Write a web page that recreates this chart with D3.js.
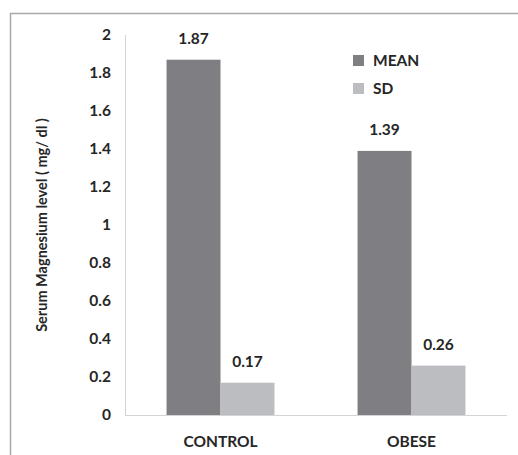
<!DOCTYPE html>
<html><head><meta charset="utf-8">
<script src="https://cdn.jsdelivr.net/npm/d3@7"></script>
<style>body{margin:0;background:#fff}svg{display:block}text{font-family:Lato,"Open Sans",sans-serif}</style>
</head><body><svg id="c" width="518" height="455"></svg>
<script>
const categories = ["CONTROL", "OBESE"];
const seriesNames = ["MEAN", "SD"];
const meanValues = [1.87, 1.39];
const sdValues = [0.17, 0.26];
const yTicks = [0, 0.2, 0.4, 0.6, 0.8, 1, 1.2, 1.4, 1.6, 1.8, 2];
const yTitle = "Serum Magnesium level ( mg/ dl )";

const colors = {MEAN: "#7f7f83", SD: "#bcbdc0"};
const svg = d3.select("#c");
const x0 = 125, x1 = 507, yTop = 35, yBot = 415;
const fs = 15.5;

// frame
svg.append("path").attr("d", `M10.5,455 V13.5 H518`).attr("fill", "none").attr("stroke", "#a9a9a9").attr("stroke-width", 1.5);

const x = d3.scaleBand().domain(categories).range([x0, x1]).paddingInner(0.435).paddingOuter(0.2175);
const xs = d3.scaleBand().domain(seriesNames).range([0, x.bandwidth()]);
const y = d3.scaleLinear().domain([0, 2]).range([yBot, yTop]);

// axes lines
svg.append("line").attr("x1", x0 + 0.5).attr("x2", x0 + 0.5).attr("y1", yTop).attr("y2", yBot).attr("stroke", "#d4d4d4");
svg.append("line").attr("x1", x0).attr("x2", x1).attr("y1", yBot + 0.5).attr("y2", yBot + 0.5).attr("stroke", "#d4d4d4");

// y tick labels
const yAxis = d3.axisLeft(y).tickValues(yTicks).tickSize(0).tickPadding(14).tickFormat(d => String(d));
const ga = svg.append("g").attr("transform", `translate(${x0},0)`).call(yAxis);
ga.select(".domain").remove();
ga.selectAll("text").attr("font-size", fs).attr("fill", "#262626").attr("font-family", "Lato, sans-serif").attr("font-weight", "bold");

// x labels
const gx = svg.append("g").attr("transform", `translate(0,${yBot})`).call(d3.axisBottom(x).tickSize(0).tickPadding(21));
gx.select(".domain").remove();
gx.selectAll("text").attr("font-size", fs).attr("fill", "#262626").attr("font-family", "Lato, sans-serif").attr("font-weight", "bold");

// data rows
const rows = categories.map((c, i) => ({cat: c, vals: [{s: "MEAN", v: meanValues[i]}, {s: "SD", v: sdValues[i]}]}));
const g = svg.selectAll("g.cat").data(rows).join("g").attr("class", "cat").attr("transform", d => `translate(${x(d.cat)},0)`);
g.selectAll("rect").data(d => d.vals).join("rect")
  .attr("x", d => xs(d.s)).attr("width", xs.bandwidth())
  .attr("y", d => y(d.v)).attr("height", d => y(0) - y(d.v))
  .attr("fill", d => colors[d.s]);
g.selectAll("text.val").data(d => d.vals).join("text").attr("class", "val")
  .attr("x", d => xs(d.s) + xs.bandwidth() / 2).attr("y", d => y(d.v) - 16)
  .attr("text-anchor", "middle").attr("font-size", fs).attr("font-weight", "bold").attr("fill", "#262626")
  .text(d => d.v.toFixed(2));

// y title
svg.append("text").attr("transform", `translate(47,225) rotate(-90)`)
  .attr("text-anchor", "middle").attr("font-size", 14.5).attr("fill", "#262626").attr("font-weight", "bold").text(yTitle);

// legend
const lg = svg.append("g").attr("transform", "translate(353,55)");
const li = lg.selectAll("g").data(seriesNames).join("g").attr("transform", (d, i) => `translate(0,${i * 28})`);
li.append("rect").attr("width", 11).attr("height", 11).attr("fill", d => colors[d]);
li.append("text").attr("x", 20).attr("y", 6).attr("dy", "0.35em").attr("font-size", fs).attr("font-weight", "bold").attr("fill", "#262626").text(d => d);
</script></body></html>
